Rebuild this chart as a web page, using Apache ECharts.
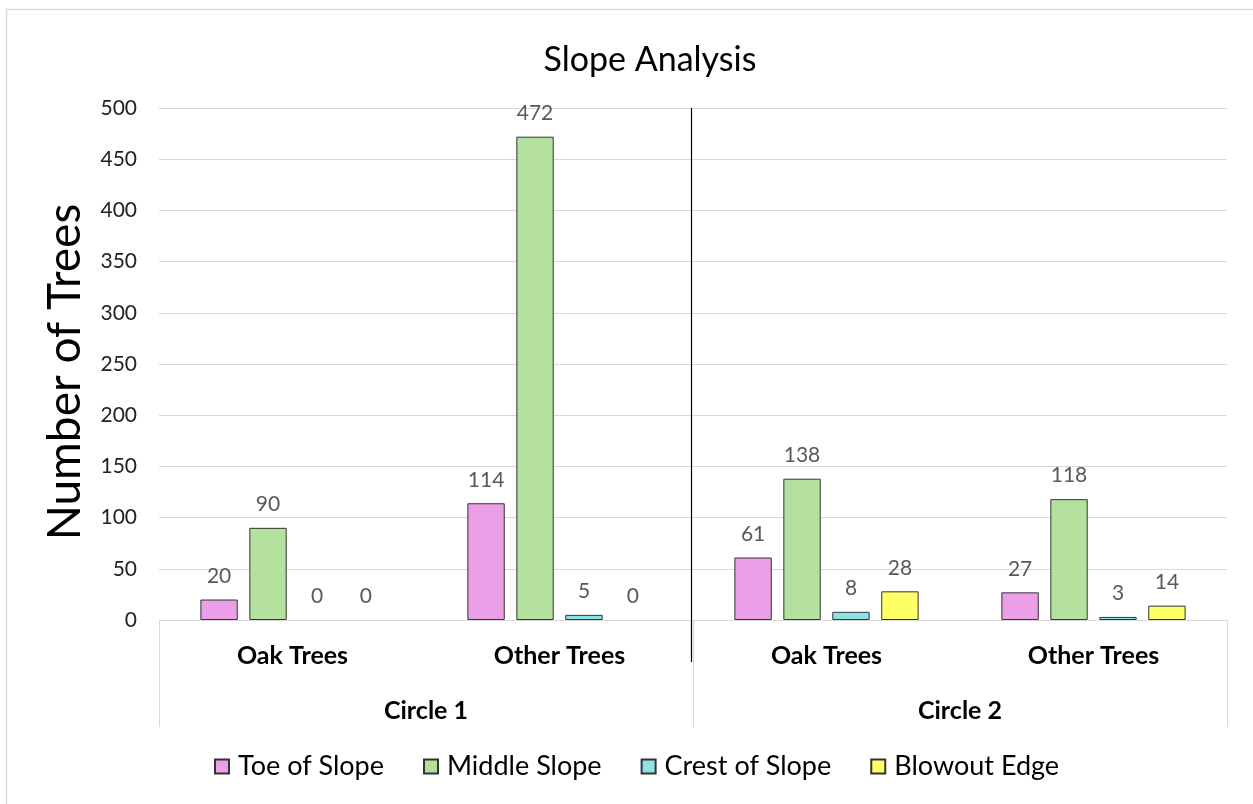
<!DOCTYPE html>
<html>
<head>
<meta charset="utf-8">
<script src="https://cdn.jsdelivr.net/npm/echarts@6/dist/echarts.min.js"></script>
<style>
html,body{margin:0;padding:0;background:#fff;}
#chart{width:1253px;height:804px;}
</style>
</head>
<body>
<div id="chart"></div>
<script>
var categories = ['Oak Trees', 'Other Trees', 'Oak Trees', 'Other Trees'];
var groups = ['Circle 1', 'Circle 2'];
var seriesNames = ['Toe of Slope', 'Middle Slope', 'Crest of Slope', 'Blowout Edge'];
var toeOfSlope = [20, 114, 61, 27];
var middleSlope = [90, 472, 138, 118];
var crestOfSlope = [0, 5, 8, 3];
var blowoutEdge = [0, 0, 28, 14];
var yTicks = {min: 0, max: 500, interval: 50};

var colors = ['#EA9FE6', '#B5E19F', '#8DE3E4', '#FFFF66'];
var FONT = 'Lato';
var seriesData = [toeOfSlope, middleSlope, crestOfSlope, blowoutEdge];

var chart = echarts.init(document.getElementById('chart'), null, {renderer: 'canvas'});

var series = seriesNames.map(function (name, i) {
  return {
    name: name,
    type: 'bar',
    xAxisIndex: 0,
    yAxisIndex: 0,
    data: seriesData[i].map(function (v) {
      return v === 0 ? {value: v, itemStyle: {borderWidth: 0}} : v;
    }),
    barGap: '31%',
    barCategoryGap: '31%',
    itemStyle: {color: colors[i], borderColor: '#333', borderWidth: 1},
    label: {
      show: true, position: 'top', distance: 13,
      color: '#595959', fontFamily: FONT, fontSize: 21
    },
    emphasis: {disabled: true}
  };
});

var option = {
  animation: false,
  backgroundColor: '#fff',
  title: {
    text: 'Slope Analysis',
    left: 645, top: 38, textAlign: 'center',
    textStyle: {fontFamily: FONT, fontSize: 34, fontWeight: 'normal', color: '#000'}
  },
  legend: {
    data: seriesNames,
    left: 214, top: 753, padding: 0,
    itemWidth: 14, itemHeight: 14, itemGap: 39,
    icon: 'rect',
    textStyle: {fontFamily: FONT, fontSize: 27, color: '#000', padding: [0, 0, 0, 4]}
  },
  grid: {left: 159, right: 26, top: 108, bottom: 184, containLabel: false},
  xAxis: [
    {
      type: 'category', data: categories, position: 'bottom',
      axisLine: {show: true, lineStyle: {color: '#d9d9d9', width: 1}},
      axisTick: {show: false},
      axisLabel: {fontFamily: FONT, fontSize: 25, fontWeight: 'bold', color: '#000', margin: 23, interval: 0}
    },
    {
      type: 'category', data: groups, position: 'bottom', offset: 0,
      axisLine: {show: false},
      axisTick: {show: true, length: 107, inside: false, lineStyle: {color: '#d9d9d9', width: 1}},
      axisLabel: {fontFamily: FONT, fontSize: 25, fontWeight: 'bold', color: '#000', margin: 78, interval: 0}
    }
  ],
  yAxis: {
    type: 'value', min: yTicks.min, max: yTicks.max, interval: yTicks.interval,
    name: 'Number of Trees', nameLocation: 'middle', nameRotate: 90, nameGap: 71,
    nameTextStyle: {fontFamily: FONT, fontSize: 46, color: '#000', padding: [0, 16, 0, 0]},
    axisLine: {show: false}, axisTick: {show: false},
    axisLabel: {fontFamily: FONT, fontSize: 21, color: '#222', margin: 22},
    splitLine: {lineStyle: {color: '#d9d9d9', width: 1}}
  },
  series: series
};
chart.setOption(option);

var x1 = chart.convertToPixel({xAxisIndex: 0}, 1);
var x2 = chart.convertToPixel({xAxisIndex: 0}, 2);
var yTop = chart.convertToPixel({yAxisIndex: 0}, yTicks.max);
var yZero = chart.convertToPixel({yAxisIndex: 0}, 0);
var xm = Math.round((x1 + x2) / 2) - 1.5;
chart.setOption({
  graphic: [
    {type: 'rect', shape: {x: 6.5, y: 9.5, width: 1400, height: 1000}, style: {fill: null, stroke: '#d9d9d9', lineWidth: 1.5}, silent: true, z: -1},
    {type: 'line', shape: {x1: xm, y1: yTop, x2: xm, y2: yZero + 42}, style: {stroke: '#000', lineWidth: 1.2}, silent: true, z: 10}
  ]
});
</script>
</body>
</html>
